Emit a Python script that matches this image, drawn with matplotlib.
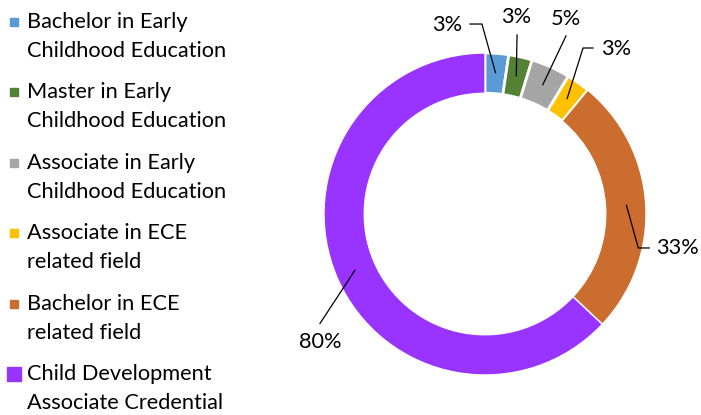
import numpy as np
import matplotlib.pyplot as plt
from matplotlib.patches import Rectangle

plt.rcParams['font.family'] = ['Lato', 'DejaVu Sans']

# data
categories = ['Bachelor in Early\nChildhood Education',
              'Master in Early\nChildhood Education',
              'Associate in Early\nChildhood Education',
              'Associate in ECE\nrelated field',
              'Bachelor in ECE\nrelated field',
              'Child Development\nAssociate Credential']
values = [3, 3, 5, 3, 33, 80]
colors = ['#5B9BD5', '#548235', '#A5A5A5', '#FFC000', '#CA6D2E', '#9933FF']

# label layout (pie data coords): text centre, elbow points of the leader line
label_pos = [(-0.236, 1.174), (0.193, 1.224), (0.503, 1.211),
             (0.814, 1.025), (1.193, -0.211), (-1.025, -0.795)]
elbows = [[(-0.093, 1.180), (-0.019, 1.180)],
          [(0.199, 1.112)],
          [(0.503, 1.106)],
          [(0.671, 1.031), (0.609, 1.031)],
          [(1.020, -0.211), (0.952, -0.211)],
          [(-1.025, -0.680)]]

fig = plt.figure(figsize=(7.01, 4.15), dpi=100)
ax = fig.add_axes([324 / 701, 40 / 415, 322 / 701, 322 / 415])

wedges, _ = ax.pie(values, colors=colors, startangle=90, counterclock=False,
                   radius=1.0, wedgeprops=dict(width=0.25, edgecolor='white', linewidth=2))
for w, v in zip(wedges, values):
    if v > 10:
        w.set_linewidth(1)
ax.set_xlim(-1, 1)
ax.set_ylim(-1, 1)

for w, v, pos, elb in zip(wedges, values, label_pos, elbows):
    mid = np.deg2rad((w.theta1 + w.theta2) / 2)
    anchor = (0.88 * np.cos(mid), 0.88 * np.sin(mid))
    pts = elb + [anchor]
    ax.plot([p[0] for p in pts], [p[1] for p in pts], color='black', lw=0.9,
            clip_on=False)
    ax.text(pos[0], pos[1], f'{v}%', ha='center', va='center', fontsize=15.7,
            color='black', clip_on=False)

# legend drawn in pixel space
lg = fig.add_axes([0, 0, 1, 1])
lg.set_xlim(0, 701)
lg.set_ylim(415, 0)
lg.axis('off')
lg.patch.set_alpha(0)
for i, (cat, col) in enumerate(zip(categories, colors)):
    base = 28 + i * 70.4
    s = 14 if i == len(categories) - 1 else 8
    lg.add_patch(Rectangle((14 - s / 2, base - 6 - s / 2), s, s, color=col))
    for j, line in enumerate(cat.split('\n')):
        lg.text(27, base + j * 29, line, fontsize=15.7, va='baseline', ha='left',
                color='black')

fig.savefig('out.png', dpi=100)
